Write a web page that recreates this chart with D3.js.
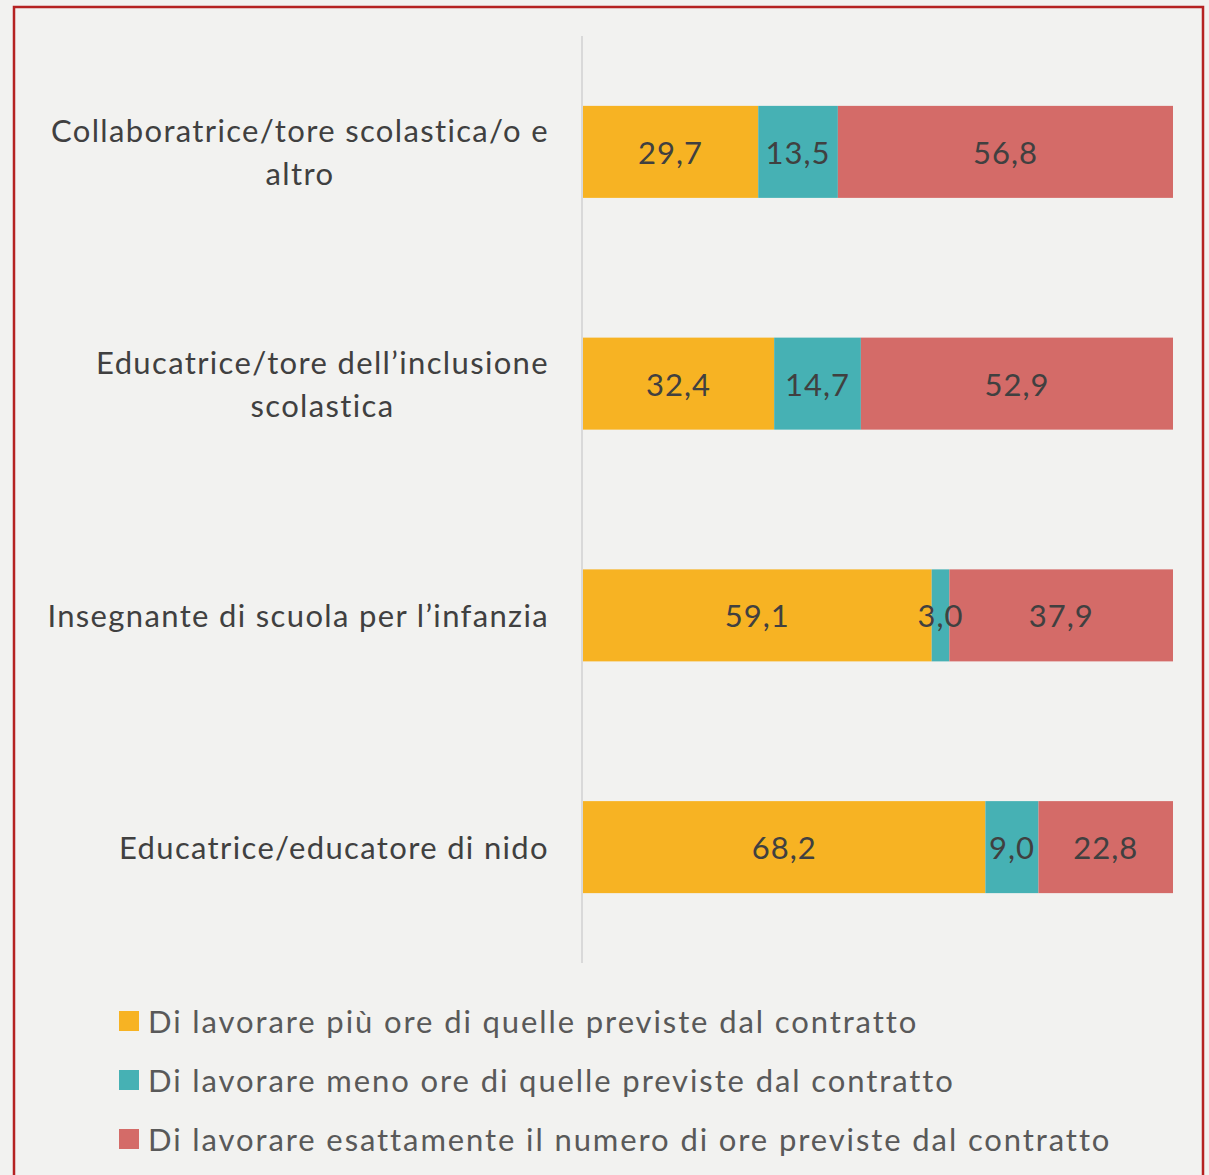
<!DOCTYPE html>
<html><head><meta charset="utf-8">
<script src="https://cdn.jsdelivr.net/npm/d3@7"></script>
<style>
html,body{margin:0;padding:0;background:#f2f2f0;}
svg{display:block;}
</style></head>
<body>
<script>
const categories = [
  ["Collaboratrice/tore scolastica/o e", "altro"],
  ["Educatrice/tore dell\u2019inclusione", "scolastica"],
  ["Insegnante di scuola per l\u2019infanzia"],
  ["Educatrice/educatore di nido"]
];
const seriesNames = [
  "Di lavorare più ore di quelle previste dal contratto",
  "Di lavorare meno ore di quelle previste dal contratto",
  "Di lavorare esattamente il numero di ore previste dal contratto"
];
const piuOre = [29.7, 32.4, 59.1, 68.2];
const menoOre = [13.5, 14.7, 3.0, 9.0];
const esatte = [56.8, 52.9, 37.9, 22.8];
const colors = ["#F7B323", "#46B1B4", "#D46B68"];

const W = 1209, H = 1175;
const svg = d3.select("body").append("svg").attr("width", W).attr("height", H);
svg.append("rect").attr("width", W).attr("height", H).attr("fill", "#f2f2f0");
// border
svg.append("path").attr("d", `M14,1180 L14,7 L1203,7 L1203,1180`)
  .attr("fill", "none").attr("stroke", "#B52222").attr("stroke-width", 2.5);

const font = "Lato, 'Open Sans', sans-serif";
const x = d3.scaleLinear().domain([0, 100]).range([583, 1173]);
const y = d3.scaleBand().domain(d3.range(categories.length)).range([36, 963]).paddingInner(0.603).paddingOuter(0.3015);

const data = categories.map((c, i) => ({i, vals: [piuOre[i], menoOre[i], esatte[i]]}));

// axis line
svg.append("line").attr("x1", 582).attr("x2", 582).attr("y1", 36).attr("y2", 963)
  .attr("stroke", "#d9d9d9").attr("stroke-width", 2);

data.forEach(d => {
  let cum = 0;
  d.vals.forEach((v, k) => {
    const x0 = x(cum), x1 = x(cum + v);
    svg.append("rect").attr("x", x0).attr("y", y(d.i)).attr("width", x1 - x0).attr("height", y.bandwidth())
      .attr("fill", colors[k]);
    cum += v;
  });
  cum = 0;
  d.vals.forEach((v, k) => {
    const x0 = x(cum), x1 = x(cum + v);
    svg.append("text").attr("x", (x0 + x1) / 2).attr("y", y(d.i) + y.bandwidth() / 2)
      .attr("text-anchor", "middle").attr("dominant-baseline", "central")
      .attr("font-family", font).attr("font-size", 31).attr("letter-spacing", 1).attr("fill", "#404040")
      .text(v.toFixed(1).replace(".", ","));
    cum += v;
  });
});

// category labels
categories.forEach((lines, i) => {
  const g = svg.append("g");
  const cy = y(i) + y.bandwidth() / 2;
  const lh = 43;
  const ts = lines.map((l, j) => g.append("text")
    .attr("y", cy + (j - (lines.length - 1) / 2) * lh)
    .attr("dominant-baseline", "central")
    .attr("font-family", font).attr("font-size", 31).attr("letter-spacing", 1.35).attr("fill", "#404040")
    .attr("text-anchor", "middle").text(l));
  const maxW = d3.max(ts, t => t.node().getComputedTextLength());
  ts.forEach(t => t.attr("x", 549 - maxW / 2));
});

// legend
seriesNames.forEach((s, k) => {
  const cy = 1021 + k * 59;
  svg.append("rect").attr("x", 119).attr("y", cy - 10).attr("width", 20).attr("height", 20).attr("fill", colors[k]);
  svg.append("text").attr("x", 148).attr("y", cy).attr("dominant-baseline", "central")
    .attr("font-family", font).attr("font-size", 31).attr("letter-spacing", 1.9).attr("fill", "#595959").text(s);
});
</script>
</body></html>
